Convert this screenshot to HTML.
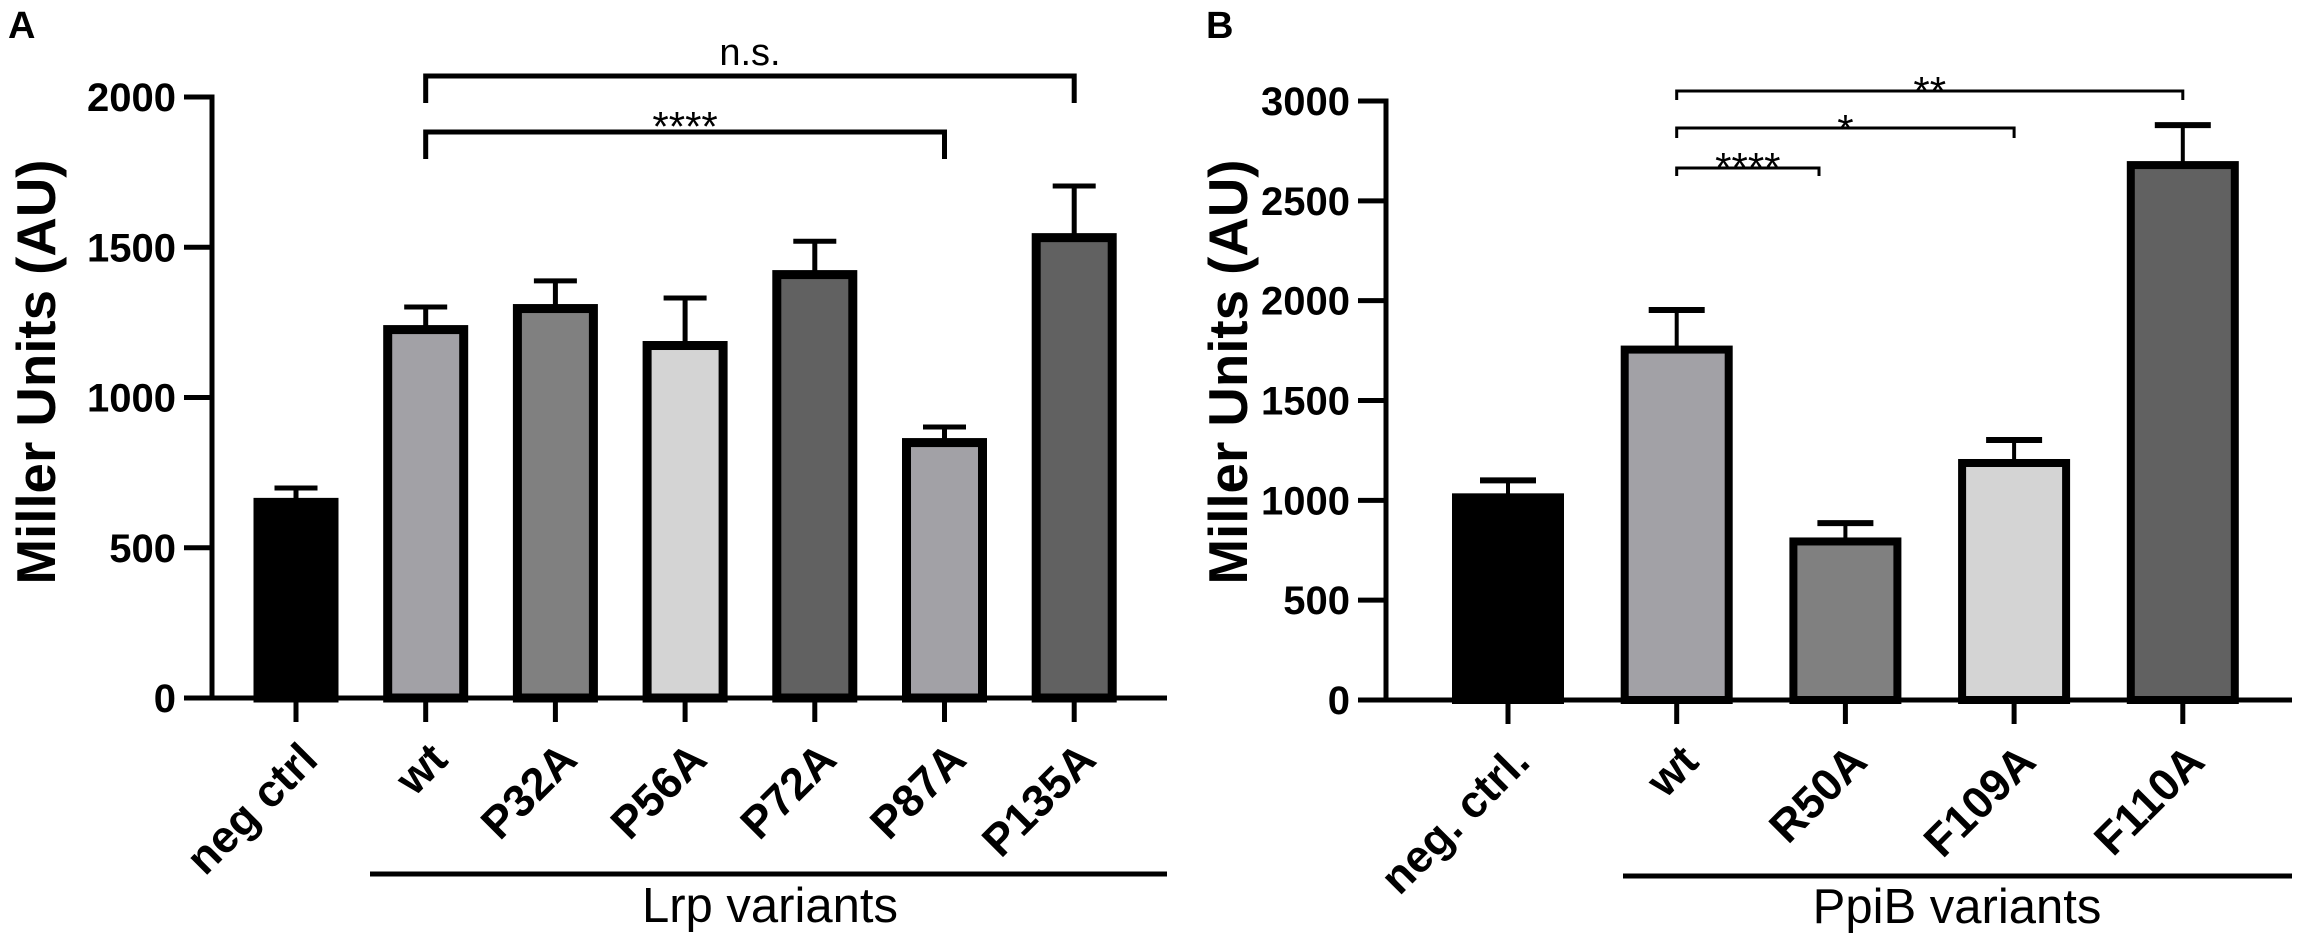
<!DOCTYPE html>
<html><head><meta charset="utf-8"><style>
html,body{margin:0;padding:0;background:#fff;}
svg{display:block;font-family:"Liberation Sans",Arial,sans-serif;}
</style></head><body>
<svg id="fig" width="2302" height="940" viewBox="0 0 2302 940" xmlns="http://www.w3.org/2000/svg">
<text x="8" y="38" font-size="38" font-weight="bold">A</text>
<text x="1206" y="38" font-size="38" font-weight="bold">B</text>
<text transform="translate(55,372) rotate(-90)" text-anchor="middle" font-size="55" font-weight="bold" textLength="425" lengthAdjust="spacingAndGlyphs">Miller Units (AU)</text>
<text transform="translate(1247,372) rotate(-90)" text-anchor="middle" font-size="55" font-weight="bold" textLength="425" lengthAdjust="spacingAndGlyphs">Miller Units (AU)</text>
<line x1="370" y1="874" x2="1167" y2="874" stroke="#000" stroke-width="5"/>
<text x="770" y="922" text-anchor="middle" font-size="49">Lrp variants</text>
<line x1="1623" y1="876" x2="2292" y2="876" stroke="#000" stroke-width="5"/>
<text x="1957" y="923" text-anchor="middle" font-size="49">PpiB variants</text>
<g id="chartA"></g>
<g id="chartB"></g>
</svg>
<script>
// Panel A data
const catsA = ["neg ctrl","wt","P32A","P56A","P72A","P87A","P135A"];
const valsA = [651, 1226, 1296, 1173, 1409, 850, 1532];
const errA  = [699, 1301, 1388, 1331, 1520, 902, 1704];
const colorsA = ["#000000","#a2a1a6","#808080","#d4d4d4","#616161","#a2a1a6","#616161"];
const ticksA = [0, 500, 1000, 1500, 2000];
// Panel B data
const catsB = ["neg. ctrl.","wt","R50A","F109A","F110A"];
const valsB = [1015, 1755, 794, 1187, 2679];
const errB  = [1100, 1953, 886, 1302, 2879];
const colorsB = ["#000000","#a2a1a6","#808080","#d4d4d4","#616161"];
const ticksB = [0, 500, 1000, 1500, 2000, 2500, 3000];

const NS = "http://www.w3.org/2000/svg";
function mk(parent, tag, attrs){
  const e = document.createElementNS(NS, tag);
  for (const k in attrs) e.setAttribute(k, attrs[k]);
  parent.appendChild(e);
  return e;
}

function drawPanel(g, cfg, cats, vals, errs, colors, ticks, brackets){
  const y = v => cfg.y0 - (v / cfg.ymax) * (cfg.y0 - cfg.yTop);
  const x = i => cfg.x0 + i * cfg.step;
  const ya = mk(g, "line", {x1:cfg.ax, y1:y(cfg.ymax)-2.5, x2:cfg.ax, y2:cfg.y0, stroke:"#000","stroke-width":cfg.axW});
  
  
  ticks.forEach(t => {
    const tl = mk(g, "line", {x1:cfg.ax-28, y1:y(t), x2:cfg.ax, y2:y(t), stroke:"#000","stroke-width":cfg.axW});
    
    
    const tx = mk(g, "text", {x:cfg.ax-36, y:y(t)+14, "text-anchor":"end","font-size":40,"font-weight":"bold"});
    tx.textContent = t;
    
    
  });
  const xa = mk(g, "line", {x1:cfg.ax-28, y1:cfg.y0, x2:cfg.xEnd, y2:cfg.y0, stroke:"#000","stroke-width":cfg.axW});
  
  
  cats.forEach((c, i) => {
    const cx = x(i);
    const ev = mk(g, "line", {x1:cx, y1:y(vals[i]), x2:cx, y2:y(errs[i]), stroke:"#000","stroke-width":cfg.errW});
    
    
    const ec = mk(g, "line", {x1:cx-cfg.capW/2, y1:y(errs[i]), x2:cx+cfg.capW/2, y2:y(errs[i]), stroke:"#000","stroke-width":cfg.capT});
    
    
    const r = mk(g, "rect", {x:cx-cfg.bw/2, y:y(vals[i]), width:cfg.bw, height:cfg.y0-y(vals[i]), fill:colors[i], stroke:"#000","stroke-width":cfg.bs});
    
    
    const tk = mk(g, "line", {x1:cx, y1:cfg.y0, x2:cx, y2:cfg.y0+24, stroke:"#000","stroke-width":5});
    
    
    const lb = mk(g, "text", {transform:`translate(${cx+24},${cfg.y0+64}) rotate(-45)`, "text-anchor":"end","font-size":45,"font-weight":"bold"});
    lb.textContent = c;
    
    
  });
  brackets.forEach(b => {
    const x1 = x(b.from), x2 = b.toX !== undefined ? b.toX : x(b.to);
    const p = mk(g, "path", {d:`M${x1},${b.y+b.leg} V${b.y} H${x2} V${b.y+b.legR}`, fill:"none", stroke:"#000","stroke-width":b.w});
    
    
    const t = mk(g, "text", {x:(x1+x2)/2, y:b.ty, "text-anchor":"middle","font-size":b.fs});
    t.textContent = b.label;
    
    
  });
}

drawPanel(document.getElementById("chartA"),
  {y0:698, yTop:97, ymax:2000, ax:212, x0:296, step:129.7, xEnd:1167, axW:5, bw:76, bs:9, errW:5, capW:43, capT:5},
  catsA, valsA, errA, colorsA, ticksA,
  [{from:1,to:6,y:76,leg:27,legR:27,w:5,label:"n.s.",ty:65,fs:38},
   {from:1,to:5,y:132,leg:27,legR:27,w:5,label:"****",ty:141,fs:42}]);

drawPanel(document.getElementById("chartB"),
  {y0:700, yTop:101, ymax:3000, ax:1386, x0:1508, step:168.7, xEnd:2292, axW:5, bw:104, bs:8, errW:4, capW:56, capT:6},
  catsB, valsB, errB, colorsB, ticksB,
  [{from:1,to:4,y:91,leg:9,legR:9,w:3,label:"**",ty:106,fs:42},
   {from:1,to:3,y:128,leg:10,legR:10,w:3,label:"*",ty:144,fs:42},
   {from:1,toX:1819,y:168,leg:8,legR:8,w:3,label:"****",ty:182,fs:42}]);
</script>
</body></html>
